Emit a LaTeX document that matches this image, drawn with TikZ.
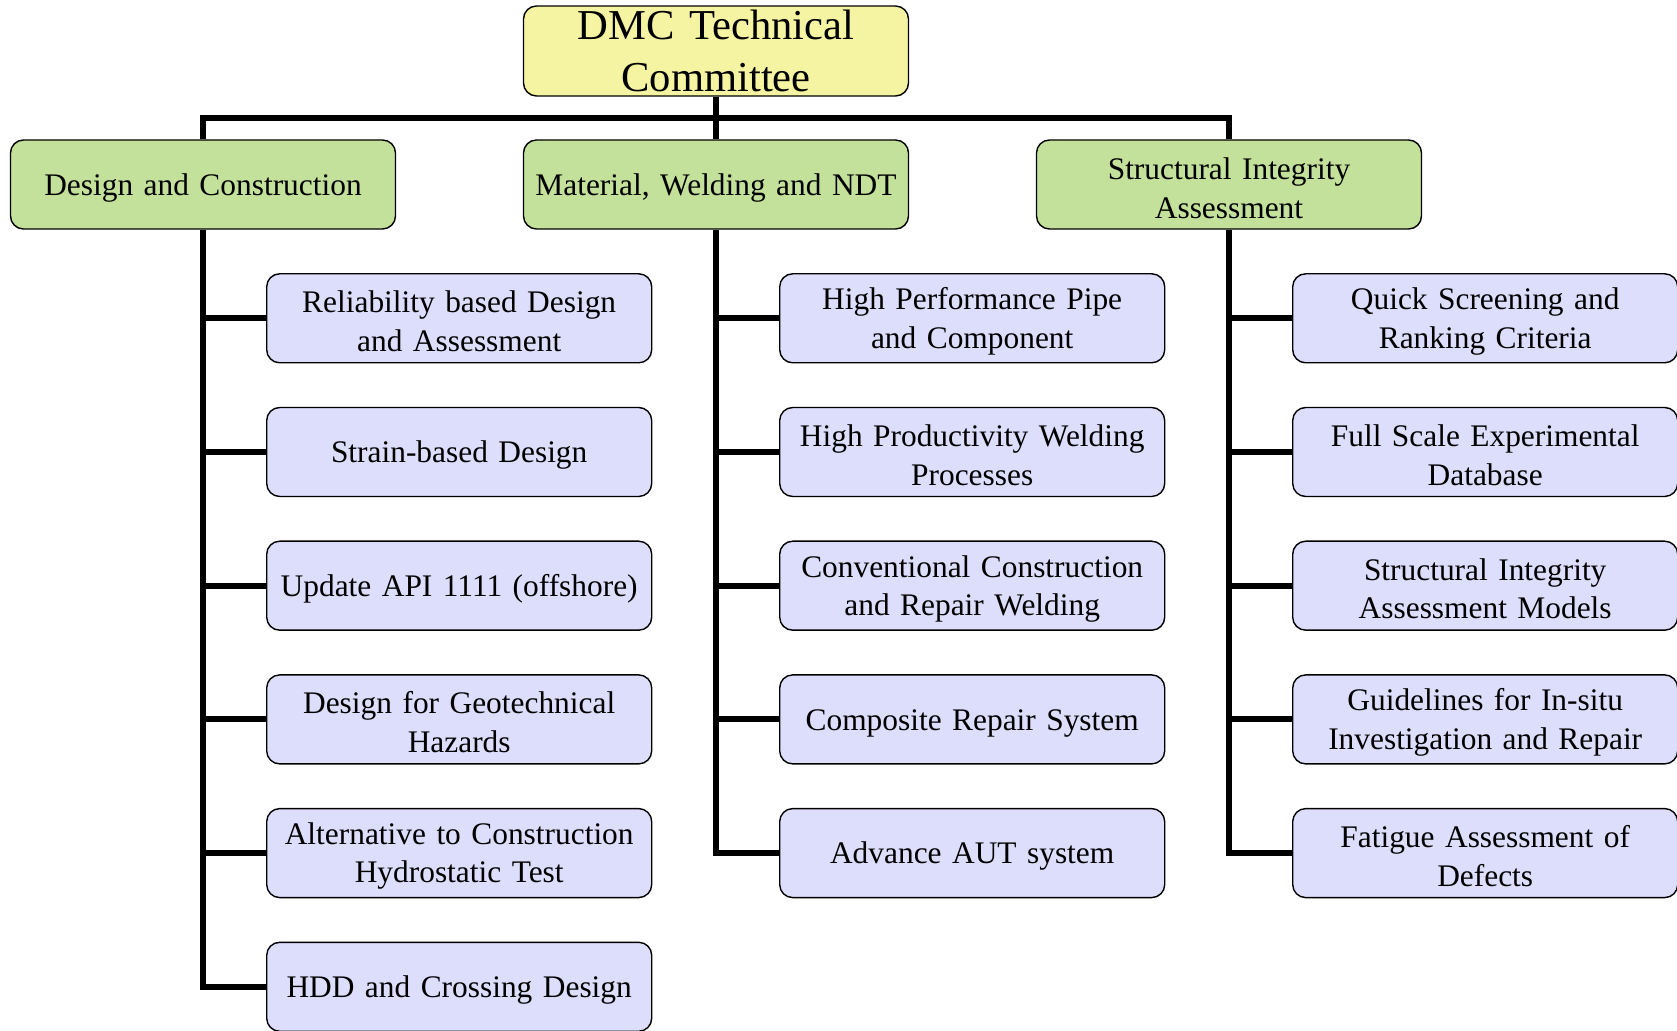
\documentclass[tikz,border=0pt]{standalone}
\usepackage{fontspec}
\setmainfont{Liberation Serif}
\usetikzlibrary{positioning, calc}
\definecolor{dmcyellow}{HTML}{F5F4A2}
\definecolor{groupgreen}{HTML}{C3E19A}
\definecolor{taskblue}{HTML}{DDDDFC}

\begin{document}
\begin{tikzpicture}[
    node distance=21.65pt,
    every node/.style={font=\fontsize{15.7pt}{19.25pt}\selectfont},
    box/.style={
        rectangle,
        rounded corners=6.5pt,
        draw=black,
        line width=0.7pt,
        minimum height=44.5pt,
        minimum width=192.5pt,
        text width=186pt,
        inner sep=0pt,
        align=center
    },
    head/.style={
        box,
        fill=dmcyellow,
        minimum height=45pt,
        font=\fontsize{21.3pt}{25.6pt}\selectfont
    },
    group/.style={box, fill=groupgreen, text height=14.5pt},
    task/.style={box, fill=taskblue, text height=14pt},
    trunk/.style={
        line width=2.9pt,
        draw=black
    }
]
\useasboundingbox (0,0) rectangle (838.5pt,-515.5pt);

% Committee and the three groups
\node[head] (dmc) at (358pt,-25.5pt) {DMC Technical\\Committee};
\node[group, below=21.3pt of dmc] (mat) {Material, Welding and NDT};
\node[group, left=63.3pt of mat] (des) {Design and Construction};
\node[group, right=63.3pt of mat] (sia) {Structural Integrity\\Assessment};

% Design and Construction column
\node[task, below right=21.7pt and 31.5pt of des.south] (d1) {Reliability based Design\\and Assessment};
\node[task, below=of d1] (d2) {Strain-based Design};
\node[task, below=of d2] (d3) {Update API 1111 (offshore)};
\node[task, below=of d3] (d4) {Design for Geotechnical\\Hazards};
\node[task, below=of d4] (d5) {Alternative to Construction\\Hydrostatic Test};
\node[task, below=of d5] (d6) {HDD and Crossing Design};

% Material, Welding and NDT column
\node[task, below right=21.7pt and 31.5pt of mat.south] (m1) {High Performance Pipe\\and Component};
\node[task, below=of m1] (m2) {High Productivity Welding\\Processes};
\node[task, below=of m2] (m3) {Conventional Construction\\and Repair Welding};
\node[task, below=of m3] (m4) {Composite Repair System};
\node[task, below=of m4] (m5) {Advance AUT system};

% Structural Integrity Assessment column
\node[task, below right=21.7pt and 31.5pt of sia.south] (s1) {Quick Screening and\\Ranking Criteria};
\node[task, below=of s1] (s2) {Full Scale Experimental\\Database};
\node[task, below=of s2] (s3) {Structural Integrity\\Assessment Models};
\node[task, below=of s3] (s4) {Guidelines for In-situ\\Investigation and Repair};
\node[task, below=of s4] (s5) {Fatigue Assessment of\\Defects};

% Top bar
\coordinate (bar) at ($(dmc.south)!0.5!(mat.north)$);
\draw[trunk] (dmc) -- (mat);
\draw[trunk] (des.north) |- (bar) -| (sia.north);

% Column trunks
\draw[trunk] (des.south) |- (d6.west);
\foreach \i in {1,...,5}
    \draw[trunk] (des.south |- d\i.west) -- (d\i.west);
\draw[trunk] (mat.south) |- (m5.west);
\foreach \i in {1,...,4}
    \draw[trunk] (mat.south |- m\i.west) -- (m\i.west);
\draw[trunk] (sia.south) |- (s5.west);
\foreach \i in {1,...,4}
    \draw[trunk] (sia.south |- s\i.west) -- (s\i.west);

\end{tikzpicture}
\end{document}
